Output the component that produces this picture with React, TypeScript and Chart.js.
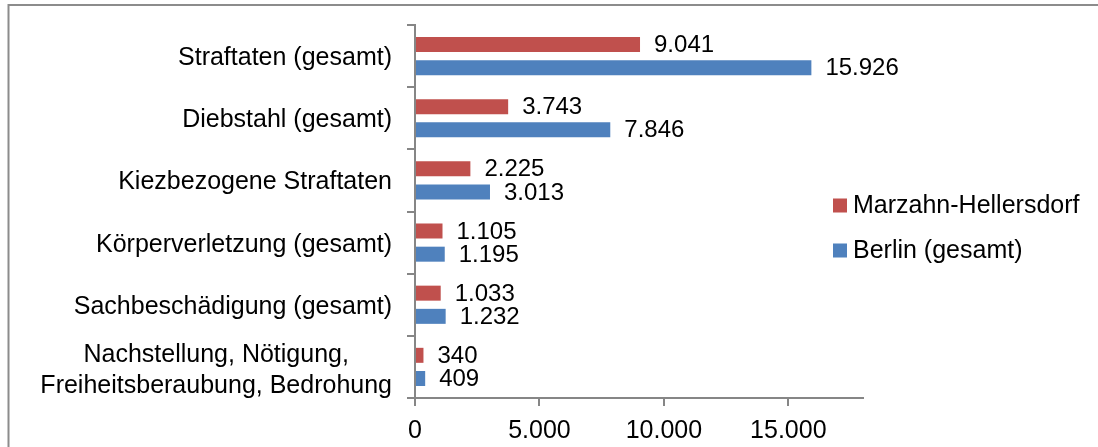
import React, { useEffect, useRef } from "react";
import { Chart, registerables } from "chart.js";

Chart.register(...registerables);

const categories: (string | string[])[] = [
  "Straftaten (gesamt)",
  "Diebstahl (gesamt)",
  "Kiezbezogene Straftaten",
  "Körperverletzung (gesamt)",
  "Sachbeschädigung (gesamt)",
  ["Nachstellung, Nötigung,", "Freiheitsberaubung, Bedrohung"],
];

const seriesNames = ["Marzahn-Hellersdorf", "Berlin (gesamt)"];
const marzahnValues = [9041, 3743, 2225, 1105, 1033, 340];
const berlinValues = [15926, 7846, 3013, 1195, 1232, 409];
const seriesColors = ["#C0504D", "#4F81BD"];

const xTickValues = [0, 5000, 10000, 15000];
const xMax = 18000;

const FONT = "'Liberation Sans', Arial, sans-serif";
const AXIS_GRAY = "#868686";

// German-style thousands separator: 15926 -> "15.926"
function fmt(v: number): string {
  return String(Math.round(v)).replace(/\B(?=(\d{3})+(?!\d))/g, ".");
}

const frameBox = {
  id: "frameBox",
  beforeDraw(chart: any) {
    const ctx = chart.ctx;
    ctx.save();
    ctx.fillStyle = "#ffffff";
    ctx.fillRect(0, 0, chart.width, chart.height);
    ctx.strokeStyle = "#8c8c8c";
    ctx.lineWidth = 2;
    ctx.strokeRect(8.5, 5, 1200, 600);
    ctx.restore();
  },
};

// Category labels: right-aligned as a block, multi-line labels centred line by line
const categoryLabels = {
  id: "categoryLabels",
  afterDraw(chart: any) {
    const scale = chart.scales.y;
    const ctx = chart.ctx;
    const rightEdge = scale.right - 8 - 15;
    const lineGap = 31;
    ctx.save();
    ctx.font = `25px ${FONT}`;
    ctx.fillStyle = "#000000";
    ctx.textBaseline = "alphabetic";
    (chart.data.labels as any[]).forEach((lab: any, i: number) => {
      const lines: string[] = Array.isArray(lab) ? lab : [lab];
      const cy = scale.getPixelForTick(i);
      const blockW = Math.max(...lines.map((l) => ctx.measureText(l).width));
      const cx = rightEdge - blockW / 2;
      const n = lines.length;
      const shift = n > 1 ? 2 : 0;
      lines.forEach((line, li) => {
        const base = cy + 9 + shift + (li - (n - 1) / 2) * lineGap;
        ctx.textAlign = "center";
        ctx.fillText(line, cx, base);
      });
    });
    ctx.restore();
  },
};

const valueLabels = {
  id: "valueLabels",
  afterDatasetsDraw(chart: any) {
    const ctx = chart.ctx;
    ctx.save();
    ctx.font = `24px ${FONT}`;
    ctx.fillStyle = "#000000";
    ctx.textAlign = "left";
    ctx.textBaseline = "middle";
    chart.data.datasets.forEach((ds: any, di: number) => {
      const meta = chart.getDatasetMeta(di);
      meta.data.forEach((el: any, i: number) => {
        ctx.fillText(fmt(ds.data[i]), el.x + 14, el.y + 1);
      });
    });
    ctx.restore();
  },
};

const sideLegend = {
  id: "sideLegend",
  afterDraw(chart: any) {
    const ctx = chart.ctx;
    ctx.save();
    ctx.font = `25px ${FONT}`;
    ctx.textAlign = "left";
    ctx.textBaseline = "middle";
    const x0 = 833;
    const rows = [205.5, 250.5];
    chart.data.datasets.forEach((ds: any, di: number) => {
      const cy = rows[di];
      ctx.fillStyle = ds.backgroundColor;
      ctx.fillRect(x0, cy - 7, 14, 14);
      ctx.fillStyle = "#000000";
      ctx.fillText(ds.label, x0 + 20, cy + 1);
    });
    ctx.restore();
  },
};

export default function App() {
  const canvasRef = useRef<HTMLCanvasElement | null>(null);

  useEffect(() => {
    const canvas = canvasRef.current;
    if (!canvas) return;
    const chart = new Chart(canvas, {
      type: "bar",
      data: {
        labels: categories,
        datasets: [
          {
            label: seriesNames[0],
            data: marzahnValues,
            backgroundColor: seriesColors[0],
            categoryPercentage: 0.746,
            barPercentage: 0.647,
          },
          {
            label: seriesNames[1],
            data: berlinValues,
            backgroundColor: seriesColors[1],
            categoryPercentage: 0.746,
            barPercentage: 0.647,
          },
        ],
      },
      options: {
        indexAxis: "y",
        responsive: false,
        animation: false,
        devicePixelRatio: 1,
        layout: { padding: { top: 25, right: 235, left: 0, bottom: 0 } },
        plugins: {
          legend: { display: false },
          tooltip: { enabled: false },
        },
        scales: {
          y: {
            type: "category",
            offset: true,
            grid: {
              offset: true,
              drawOnChartArea: false,
              drawTicks: true,
              tickLength: 8,
              color: AXIS_GRAY,
              lineWidth: 2,
            },
            border: { color: AXIS_GRAY, width: 2 },
            ticks: {
              display: false,
              autoSkip: false,
            },
            afterFit(scale: any) {
              scale.width = 415;
              scale.paddingTop = 0;
              scale.paddingBottom = 0;
            },
          },
          x: {
            type: "linear",
            min: 0,
            max: xMax,
            grid: {
              drawOnChartArea: false,
              drawTicks: true,
              tickLength: 8,
              color: AXIS_GRAY,
              lineWidth: 2,
            },
            border: { color: AXIS_GRAY, width: 2 },
            afterBuildTicks(scale: any) {
              scale.ticks = xTickValues.map((v) => ({ value: v }));
            },
            ticks: {
              color: "#000000",
              padding: 10,
              maxRotation: 0,
              autoSkip: false,
              font: { family: FONT, size: 25 },
              callback: (v: any) => fmt(Number(v)),
            },
            afterFit(scale: any) {
              scale.height = 49;
              scale.paddingLeft = 0;
              scale.paddingRight = 0;
            },
          },
        },
      },
      plugins: [frameBox, categoryLabels, valueLabels, sideLegend],
    });
    return () => chart.destroy();
  }, []);

  return (
    <canvas
      ref={canvasRef}
      width={1098}
      height={447}
      style={{ position: "fixed", left: 0, top: 0, width: 1098, height: 447 }}
    />
  );
}
